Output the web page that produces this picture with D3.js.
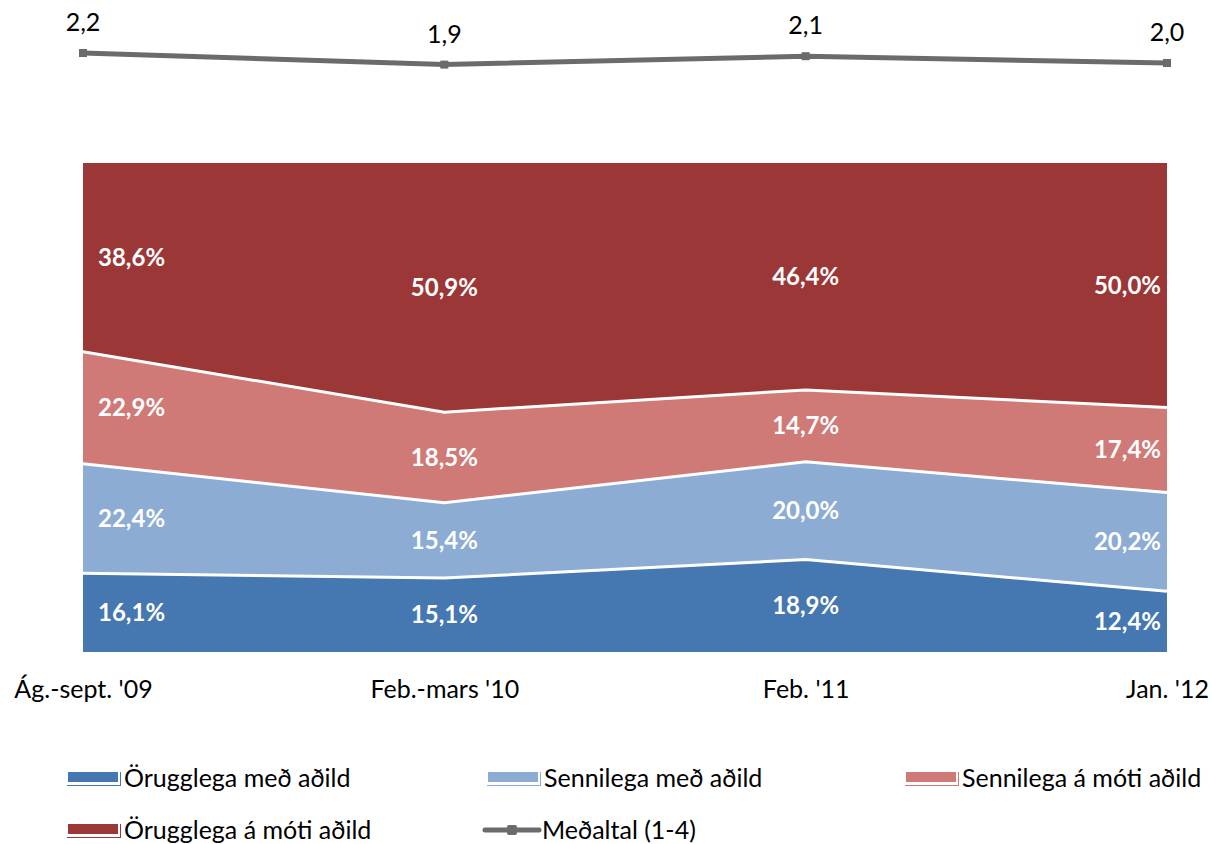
<!DOCTYPE html>
<html><head><meta charset="utf-8">
<script src="https://cdn.jsdelivr.net/npm/d3@7"></script>
<style>html,body{margin:0;padding:0;background:#fff;}svg{display:block;font-family:Lato,"Open Sans",sans-serif;}</style>
</head><body>
<svg id="c" width="1212" height="844"></svg>
<script>
const categories = ["Ág.-sept. '09", "Feb.-mars '10", "Feb. '11", "Jan. '12"];
const seriesNames = ["Örugglega með aðild", "Sennilega með aðild", "Sennilega á móti aðild", "Örugglega á móti aðild"];
const s1 = [16.1, 15.1, 18.9, 12.4];
const s2 = [22.4, 15.4, 20.0, 20.2];
const s3 = [22.9, 18.5, 14.7, 17.4];
const s4 = [38.6, 50.9, 46.4, 50.0];
const avgName = "Meðaltal (1-4)";
const avg = [2.22, 1.93, 2.14, 1.97];
const colors = ["#4577b0", "#8cacd4", "#d07a77", "#9b3737"];

const svg = d3.select("#c");
const x = d3.scalePoint().domain(categories).range([83, 1167]);
const y = d3.scaleLinear().domain([0, 100]).range([652, 163]);
const yAvg = d3.scaleLinear().domain([1.5, 2.5]).range([81.8, 41.8]);

const rows = categories.map((c, i) => ({cat: c, a: s1[i], b: s2[i], c2: s3[i], d: s4[i]}));
const keys = ["a", "b", "c2", "d"];
const layers = d3.stack().keys(keys)(rows);

layers.forEach(l => l.forEach((p, i) => {
  const tot = s1[i] + s2[i] + s3[i] + s4[i];
  p.n0 = p[0] / tot * 100; p.n1 = p[1] / tot * 100;
}));

const area = d3.area().x((p, i) => x(categories[i])).y0(p => y(p.n0)).y1(p => y(p.n1));
svg.append("g").selectAll("path").data(layers).join("path")
  .attr("d", area).attr("fill", (d, i) => colors[i]);

const line = d3.line().x((p, i) => x(categories[i])).y(p => y(p.n1));
svg.append("g").selectAll("path").data(layers.slice(0, 3)).join("path")
  .attr("d", line).attr("fill", "none").attr("stroke", "#fff").attr("stroke-width", 3);

const lab = svg.append("g").attr("fill", "#fff").attr("font-weight", "bold").attr("font-size", 24);
layers.forEach((l, li) => {
  l.forEach((p, i) => {
    const n = categories.length;
    let xp = x(categories[i]), anchor = "middle";
    if (i === 0) { xp += 15; anchor = "start"; }
    if (i === n - 1) { xp -= 6; anchor = "end"; }
    lab.append("text").attr("x", xp).attr("y", y((p.n0 + p.n1) / 2))
      .attr("dy", "0.35em").attr("text-anchor", anchor)
      .text(d3.format(".1f")(p[1] - p[0]).replace(".", ",") + "%");
  });
});

const aLine = d3.line().x((v, i) => x(categories[i])).y(v => yAvg(v));
svg.append("path").datum(avg).attr("d", aLine).attr("fill", "none")
  .attr("stroke", "#6b6b6b").attr("stroke-width", 5);
svg.append("g").selectAll("rect").data(avg).join("rect")
  .attr("x", (v, i) => x(categories[i]) - 4).attr("y", v => yAvg(v) - 4)
  .attr("width", 8).attr("height", 8).attr("fill", "#6b6b6b");
svg.append("g").selectAll("text").data(avg).join("text")
  .attr("x", (v, i) => x(categories[i])).attr("y", v => yAvg(v) - 22)
  .attr("text-anchor", "middle").attr("font-size", 25).attr("fill", "#000")
  .text(v => d3.format(".1f")(v).replace(".", ","));

const xAxis = d3.axisBottom(x).tickSize(0).tickPadding(0);
const gx = svg.append("g").attr("transform", "translate(0,680)").call(xAxis);
gx.select(".domain").remove();
gx.selectAll("text").attr("font-size", 25).attr("fill", "#000").attr("font-family", "Lato, sans-serif");

const legend = [
  {name: seriesNames[0], color: colors[0], x: 67, y: 778, type: "area"},
  {name: seriesNames[1], color: colors[1], x: 487, y: 778, type: "area"},
  {name: seriesNames[2], color: colors[2], x: 905, y: 778, type: "area"},
  {name: seriesNames[3], color: colors[3], x: 67, y: 830, type: "area"},
  {name: avgName, color: "#6b6b6b", x: 485, y: 830, type: "line"}
];
const lg = svg.append("g");
legend.forEach(d => {
  const g = lg.append("g").attr("transform", `translate(${d.x},${d.y})`);
  if (d.type === "area") {
    g.append("rect").attr("x", 1).attr("y", -6).attr("width", 50).attr("height", 10).attr("fill", d.color);
    g.append("line").attr("x1", 0).attr("x2", 54).attr("y1", 7.5).attr("y2", 7.5).attr("stroke", d.color).attr("stroke-width", 1);
    g.append("line").attr("x1", 53.5).attr("x2", 53.5).attr("y1", -6).attr("y2", 7.5).attr("stroke", d.color).attr("stroke-width", 1);
  } else {
    g.append("line").attr("x1", 0).attr("x2", 54).attr("y1", 0).attr("y2", 0).attr("stroke", d.color).attr("stroke-width", 5).attr("stroke-linecap", "round");
    g.append("rect").attr("x", 22).attr("y", -5).attr("width", 10).attr("height", 10).attr("rx", 2).attr("fill", d.color);
  }
  g.append("text").attr("x", 57).attr("y", 0).attr("dy", "0.35em").attr("font-size", 25).attr("fill", "#000").text(d.name);
});
</script>
</body></html>
